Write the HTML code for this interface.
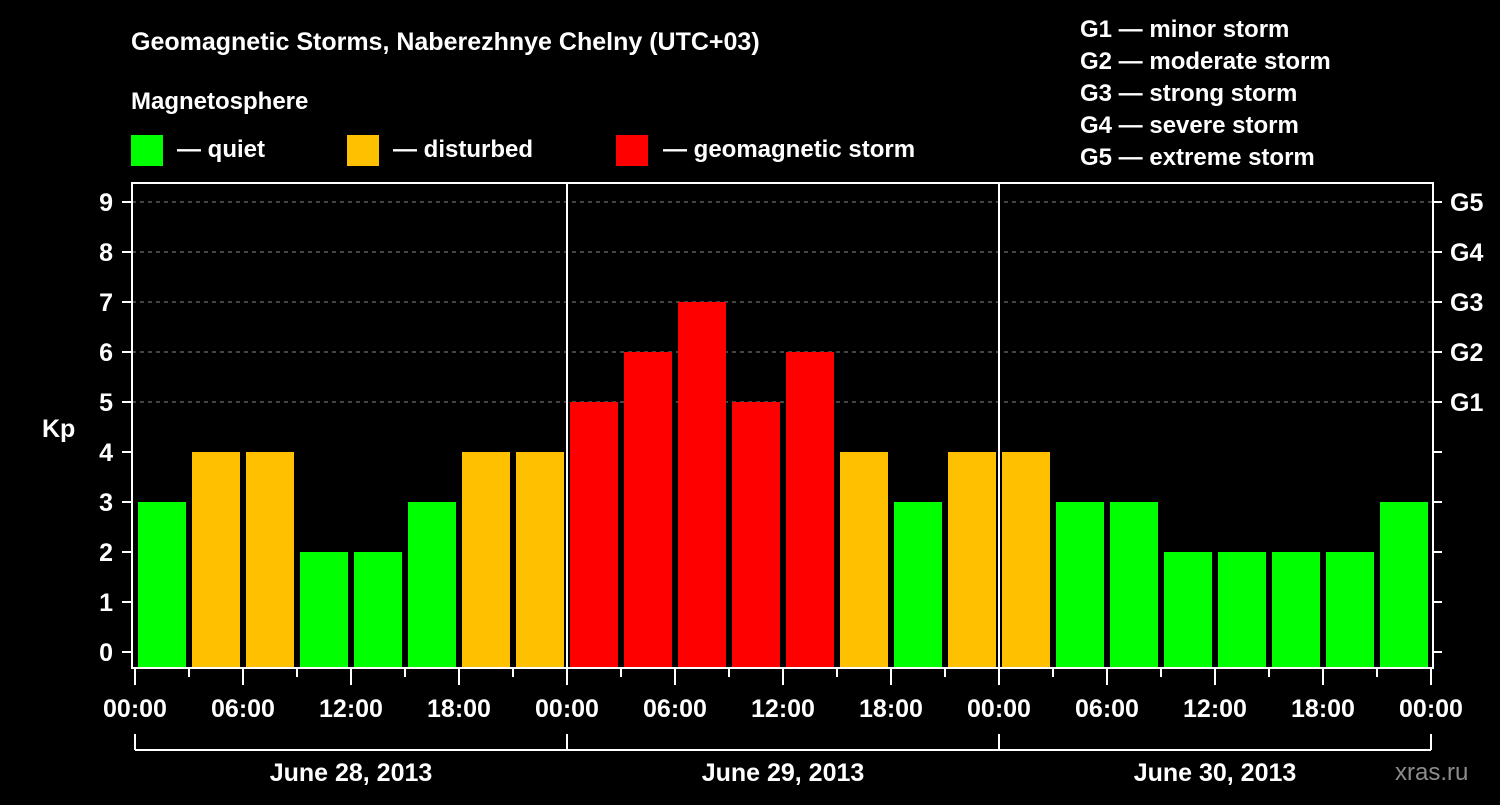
<!DOCTYPE html>
<html><head><meta charset="utf-8"><style>
html,body{margin:0;padding:0;background:#000;}
svg text{font-family:"Liberation Sans",Arial,sans-serif;font-weight:bold;fill:#fff;}
</style></head><body>
<svg id="c" width="1500" height="800" xmlns="http://www.w3.org/2000/svg">
<rect width="1500" height="800" fill="#000"/>
<text x="131" y="50" font-size="25">Geomagnetic Storms, Naberezhnye Chelny (UTC+03)</text>
<text x="131" y="109" font-size="24">Magnetosphere</text>
<g><rect x="131" y="135" width="32" height="31" fill="#00ff00"/><text x="177" y="157" font-size="24">— quiet</text></g>
<g><rect x="347" y="135" width="32" height="31" fill="#ffc000"/><text x="393" y="157" font-size="24">— disturbed</text></g>
<g><rect x="616" y="135" width="32" height="31" fill="#ff0000"/><text x="663" y="157" font-size="24">— geomagnetic storm</text></g>
<g font-size="24">
<text x="1080" y="37">G1 — minor storm</text><text x="1080" y="69">G2 — moderate storm</text><text x="1080" y="101">G3 — strong storm</text><text x="1080" y="133">G4 — severe storm</text><text x="1080" y="165">G5 — extreme storm</text>
</g>
<text x="42" y="437" font-size="25">Kp</text>
<text x="1395" y="780" font-size="24" fill="#888" style="fill:#8c8c8c;font-weight:normal">xras.ru</text>
<g id="grid"></g><g id="bars"></g><g id="axes"></g>
</svg>
<script>
const kpValues=[3,4,4,2,2,3,4,4, 5,6,7,5,6,4,3,4, 4,3,3,2,2,2,2,3];
const dayLabels=["June 28, 2013","June 29, 2013","June 30, 2013"];
const hourLabels=["00:00","06:00","12:00","18:00"];
const yTicks=[0,1,2,3,4,5,6,7,8,9];
const gLabels=["G1","G2","G3","G4","G5"];
const NS="http://www.w3.org/2000/svg";
const X0=135,SLOT=54,Y0=652,UNIT=50,BOT=668,TOP=183,L=132,R=1433;
const xs=i=>X0+i*SLOT, ys=v=>Y0-v*UNIT;
function mk(p,t,a){const e=document.createElementNS(NS,t);for(const k in a)e.setAttribute(k,a[k]);p.appendChild(e);return e;}
const grid=document.getElementById('grid'),bars=document.getElementById('bars'),ax=document.getElementById('axes');
yTicks.forEach(v=>{if(v>=5){const l=mk(grid,'line',{x1:L,x2:R,y1:ys(v),y2:ys(v),stroke:'#888','stroke-dasharray':'4,4','stroke-width':1});

}});
kpValues.forEach((v,i)=>{const col=v>=5?'#ff0000':v>=4?'#ffc000':'#00ff00';
const r=mk(bars,'rect',{x:xs(i)+3,y:ys(v),width:48,height:BOT-ys(v),fill:col});

});
mk(ax,'rect',{x:L,y:TOP,width:R-L,height:BOT-TOP,fill:'none',stroke:'#fff','stroke-width':2});
[1,2].forEach(d=>{const l=mk(ax,'line',{x1:xs(d*8),x2:xs(d*8),y1:TOP,y2:BOT,stroke:'#fff','stroke-width':2});

});
yTicks.forEach(v=>{mk(ax,'line',{x1:L-10,x2:L,y1:ys(v),y2:ys(v),stroke:'#fff','stroke-width':2});
mk(ax,'line',{x1:R,x2:R+9,y1:ys(v),y2:ys(v),stroke:'#fff','stroke-width':2});
const t=mk(ax,'text',{x:113,y:ys(v)+9,'font-size':25,'text-anchor':'end'});t.textContent=v;

});
gLabels.forEach((g,i)=>{const t=mk(ax,'text',{x:1450,y:ys(5+i)+9,'font-size':25});t.textContent=g;

});
for(let i=0;i<=24;i++){const major=i%2==0;mk(ax,'line',{x1:xs(i),x2:xs(i),y1:BOT,y2:major?685:677,stroke:'#fff','stroke-width':2});
if(major){const t=mk(ax,'text',{x:xs(i),y:717,'font-size':25,'text-anchor':'middle'});t.textContent=hourLabels[(i/2)%4];

}}
mk(ax,'line',{x1:xs(0),x2:xs(24),y1:750,y2:750,stroke:'#fff','stroke-width':2});
for(let d=0;d<=3;d++)mk(ax,'line',{x1:xs(d*8),x2:xs(d*8),y1:734,y2:750,stroke:'#fff','stroke-width':2});
dayLabels.forEach((s,d)=>{const t=mk(ax,'text',{x:xs(d*8+4),y:781,'font-size':25,'text-anchor':'middle'});t.textContent=s;

});
</script>
</body></html>
